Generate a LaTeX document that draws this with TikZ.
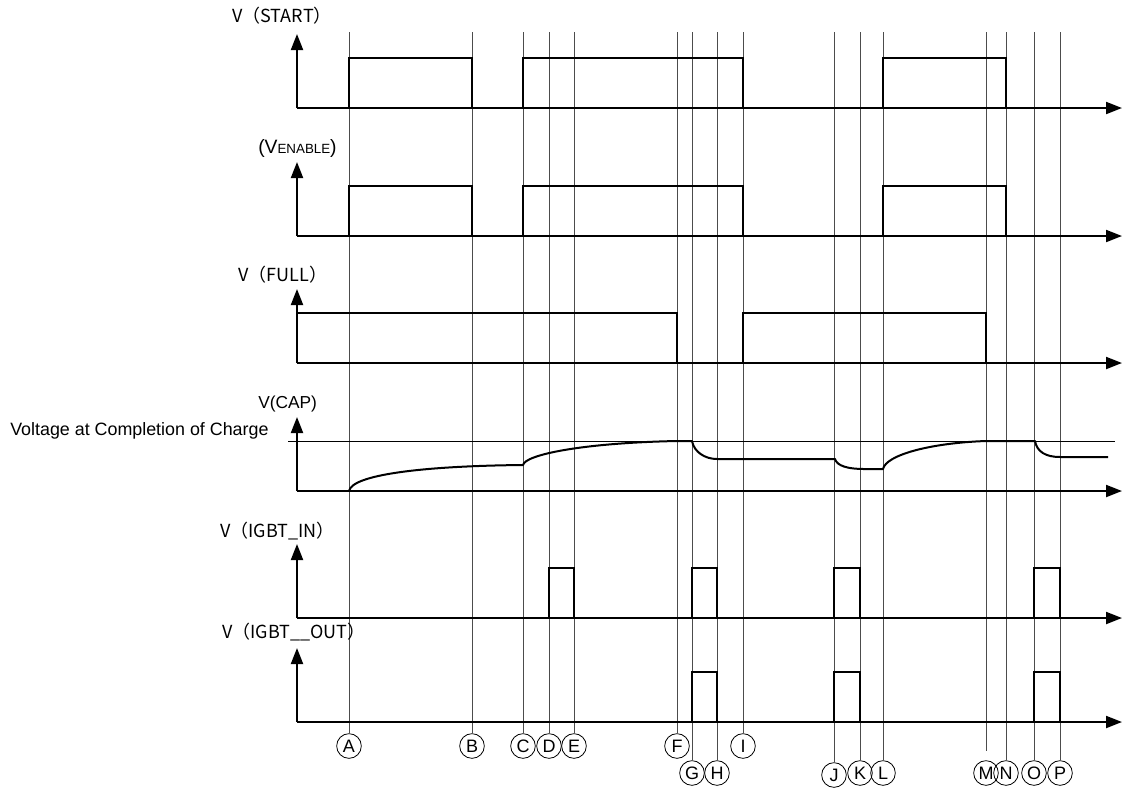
\documentclass[tikz,border=0pt]{standalone}
\usepackage{fontspec}
\setmainfont{Liberation Sans}
\newfontfamily\jpfont{Noto Sans CJK JP}
\usetikzlibrary{arrows.meta,calc}

\begin{document}
\begin{tikzpicture}[
	x=0.75pt, y=-0.75pt,
	signal/.style={line width=1.5pt, line join=miter},
	axisline/.style={line width=1.5pt, -{Triangle[length=12pt,width=9pt]}},
	guide/.style={black!70, line width=0.6pt},
	marker/.style={draw, circle, line width=0.6pt, minimum size=18.5pt,
		inner sep=0pt, font=\fontsize{13.5}{13.5}\selectfont},
	chanlabel/.style={anchor=west, inner sep=0pt,
		font=\jpfont\fontsize{13.5}{15}\selectfont}
	]
	
	\useasboundingbox (0,0) rectangle (1122,790);
	
	% ---------------------------------------------------------
	% TIME MARKERS
	% ---------------------------------------------------------
	
	\foreach \n/\x/\y/\s in {A/349/746/0, B/472/746/0, C/523/746/0,
		D/549/746/0, E/574/746/0, F/677/746/0, I/743/746/0,
		G/692/773/0, H/717/773/0, J/834/775/0, K/860/773/0,
		L/883/773/0, M/986/773/7, N/1006/773/0, O/1034/773/0,
		P/1060/773/0}
	{
		\node[marker] (m\n) at (\x,\y) {\n};
		\coordinate (g\n) at (\x,32);
		\draw[guide, shorten >=\s pt] (g\n) -- (m\n);
	}
	
	% ---------------------------------------------------------
	% AXES
	% ---------------------------------------------------------
	
	\foreach \b in {108,236,363,491,618,722}
	{
		\draw[axisline] (297,\b) -- (1122,\b);
		\draw[axisline] (297,\b) -- (297,{\b-74});
	}
	
	% ---------------------------------------------------------
	% LABELS
	% ---------------------------------------------------------
	
	\node[chanlabel] (lstart) at (232,16) {V（START）};
	\node[chanlabel, font=\fontsize{14.5}{15}\selectfont] (lenable) at (258,148)
	{(V{\fontsize{10}{10}\selectfont ENABLE})};
	\node[chanlabel, font=\fontsize{13}{14}\selectfont] (lcap) at (258,404) {V(CAP)};
	\node[chanlabel] (lfull) at (238,275) {V（FULL）};
	\node[chanlabel] (lin) at (220,531) {V（IGBT\_IN）};
	\node[chanlabel] (lout) at (222,632) {V（IGBT\_\_OUT）};
	\node[anchor=west, inner sep=0pt, font=\fontsize{13.4}{14}\selectfont]
	(lcharge) at (10,431) {Voltage at Completion of Charge};
	
	% ---------------------------------------------------------
	% V(START) AND V(ENABLE)
	% ---------------------------------------------------------
	
	\foreach \b in {108,236}
	\foreach \a/\e in {349/472, 523/743, 883/1006}
	\draw[signal] (\a,\b) -- (\a,{\b-50}) -- (\e,{\b-50}) -- (\e,\b);
	
	% ---------------------------------------------------------
	% V(FULL)
	% ---------------------------------------------------------
	
	\foreach \a/\e in {297/677, 743/986}
	\draw[signal] (\a,363) -- (\a,313) -- (\e,313) -- (\e,363);
	
	% ---------------------------------------------------------
	% V(CAP)
	% ---------------------------------------------------------
	
	\draw[line width=0.75pt] (288,441) -- (1115,441);
	\draw[signal, line join=round]
	(349,491) .. controls (352,475) and (420,466) .. (523,465)
	.. controls (525,455) and (580,443) .. (677,441)
	-- (692,441)
	.. controls (694,452) and (705,459) .. (717,459)
	-- (835,459)
	.. controls (837,466) and (848,469) .. (864,469)
	-- (883,469)
	.. controls (886,455) and (930,443) .. (986,441)
	-- (1035,441)
	.. controls (1037,452) and (1046,457) .. (1060,457)
	-- (1108,457);
	
	% ---------------------------------------------------------
	% V(IGBT_IN) AND V(IGBT_OUT)
	% ---------------------------------------------------------
	
	\foreach \a/\e in {549/574, 692/717, 834/860, 1034/1060}
	\draw[signal] (\a,618) -- (\a,568) -- (\e,568) -- (\e,618);
	
	\foreach \a/\e in {692/717, 834/860, 1034/1060}
	\draw[signal] (\a,722) -- (\a,672) -- (\e,672) -- (\e,722);
	
\end{tikzpicture}
\end{document}
